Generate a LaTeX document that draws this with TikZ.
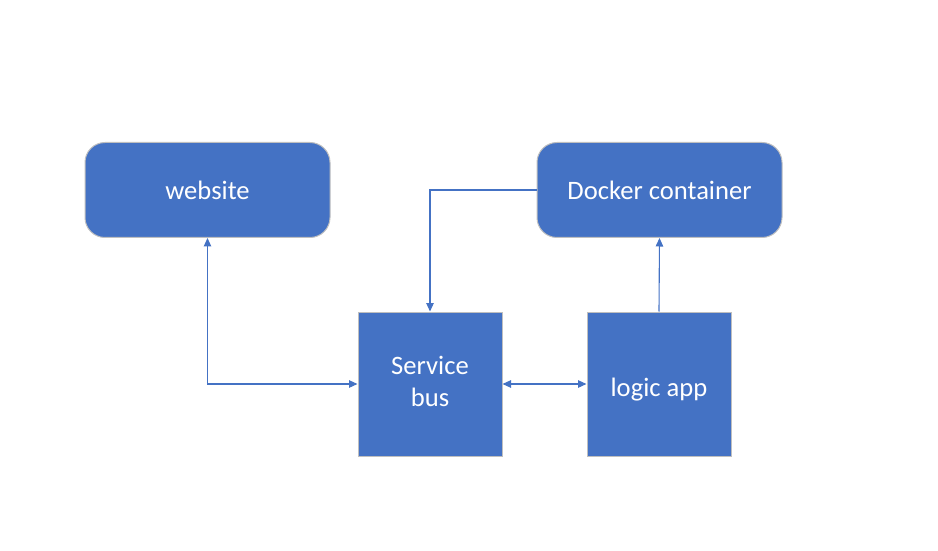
\documentclass[tikz,border=0pt]{standalone}
\usepackage{fontspec}
\setmainfont{Carlito}
\usetikzlibrary{arrows.meta}
\definecolor{boxblue}{HTML}{4472C4}
\definecolor{boxedge}{HTML}{BFBFBF}
\definecolor{linkblue}{HTML}{4472C4}
\tikzset{
  x=1pt, y=1pt,
  boxtext/.style={text=white, align=center, inner sep=0pt,
    font=\fontsize{26.6}{32}\selectfont},
  roundbox/.style={draw=boxedge, line width=1pt, fill=boxblue, rounded corners=20pt,
    minimum width=245pt, minimum height=95pt, inner sep=0pt, boxtext},
  squarebox/.style={draw=boxedge, line width=1pt, fill=boxblue,
    minimum width=144pt, minimum height=144pt, inner sep=0pt},
  tip/.style={Triangle[length=8.5pt,width=7.5pt]},
  link/.style={draw=linkblue, line width=1.1pt, -{Triangle[length=8.5pt,width=7.5pt]}},
  dlink/.style={draw=linkblue, line width=1.1pt, {Triangle[length=8.5pt,width=7.5pt]}-{Triangle[length=8.5pt,width=7.5pt]}}
}
\begin{document}
\begin{tikzpicture}
\useasboundingbox (0,0) rectangle (938,550);
\node[roundbox] (web) at (207.5,360) {website};
\node[roundbox] (dock) at (659.5,360) {Docker container};
\node[squarebox, label={[boxtext, yshift=3pt]center:Service\\bus}] (bus) at (430,166) {};
\node[squarebox, label={[boxtext, yshift=-6pt]center:logic app}] (logic) at (659,166) {};
\draw[dlink] (web.south) |- (bus.west);
\draw[link] (dock.west) -| (bus.north);
\draw[dlink] (bus.east) -- (logic.west);
\draw[link] (logic.north) -- (dock.south);
\end{tikzpicture}
\end{document}
